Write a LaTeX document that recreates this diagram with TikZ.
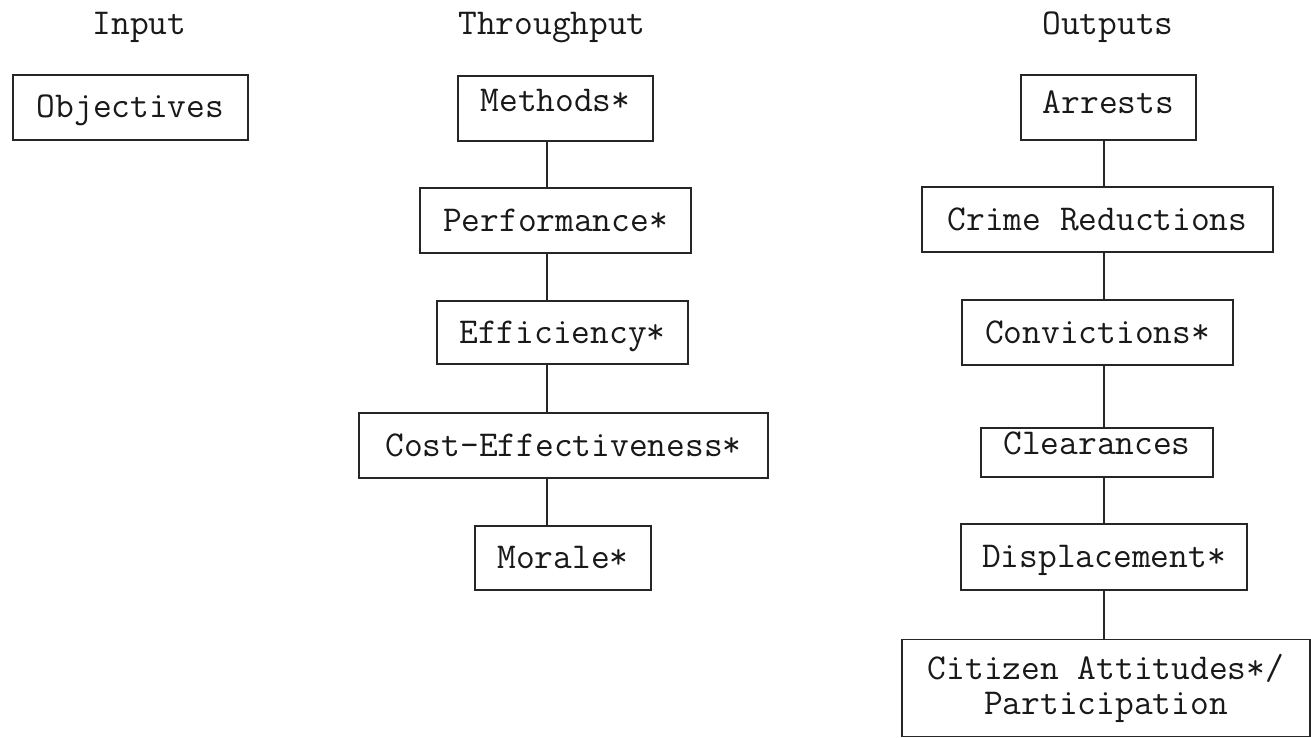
\documentclass[tikz,border=0pt]{standalone}
\usepackage{fontspec}
\begin{document}
\begin{tikzpicture}[x=1pt,y=-1pt,
  every node/.style={font=\ttfamily\fontsize{36.4}{31}\selectfont, text=black!90},
  box/.style={draw=black!85, line width=1.3pt, inner sep=0pt, rectangle,
    text height=21pt, text depth=0pt},
  title/.style={anchor=base, inner sep=0pt},
  link/.style={draw=black!85, line width=1.2pt}]
\useasboundingbox[fill=white] (0,0) rectangle (1311,738);

% titles
\node[title] (tin)  at (139.5,35) {Input};
\node[title] (tthr) at (552,35) {Throughput};
\node[title] (tout) at (1108,35) {Outputs};

% input
\node[box, minimum width=235pt, minimum height=65pt] (obj) at (130.5,107.5) {Objectives};

% throughput
\node[box, minimum width=195pt, minimum height=65pt, text depth=14pt] (meth) at (555.5,108.5) {Methods*};
\node[box, minimum width=271pt, minimum height=65pt] (perf) at (555.5,220.5) {Performance*};
\node[box, minimum width=251pt, minimum height=63pt] (eff) at (562.5,332.5) {Efficiency*};
\node[box, minimum width=409pt, minimum height=65pt] (cost) at (563.5,445.5) {Cost-Effectiveness*};
\node[box, minimum width=176pt, minimum height=64pt] (mor) at (563,558) {Morale*};

% outputs
\node[box, minimum width=175pt, minimum height=65pt, text depth=8pt] (arr) at (1108.5,107.5) {Arrests};
\node[box, minimum width=351pt, minimum height=65pt] (crime) at (1097.5,219.5) {Crime Reductions};
\node[box, minimum width=271pt, minimum height=65pt] (conv) at (1097.5,332.5) {Convictions*};
\node[box, minimum width=232pt, minimum height=49pt, text depth=18pt] (clear) at (1097,452.5) {Clearances};
\node[box, minimum width=286pt, minimum height=66pt] (disp) at (1104,557) {Displacement*};
\node[draw=black!85, line width=1.3pt, inner sep=0pt, minimum width=408pt, minimum height=97pt, align=center,
  font=\ttfamily\fontsize{36.4}{35}\selectfont] (cit) at (1106,688) {Citizen Attitudes*/\\Participation};

% connector columns
\coordinate (tx) at (547,0);
\coordinate (ox) at (1104,0);

\draw[link] (meth.south -| tx) -- (perf.north -| tx);
\draw[link] (perf.south -| tx) -- (eff.north -| tx);
\draw[link] (eff.south -| tx) -- (cost.north -| tx);
\draw[link] (cost.south -| tx) -- (mor.north -| tx);

\draw[link] (arr.south -| ox) -- (crime.north -| ox);
\draw[link] (crime.south -| ox) -- (conv.north -| ox);
\draw[link] (conv.south -| ox) -- (clear.north -| ox);
\draw[link] (clear.south -| ox) -- (disp.north -| ox);
\draw[link] (disp.south -| ox) -- (cit.north -| ox);
\end{tikzpicture}
\end{document}
